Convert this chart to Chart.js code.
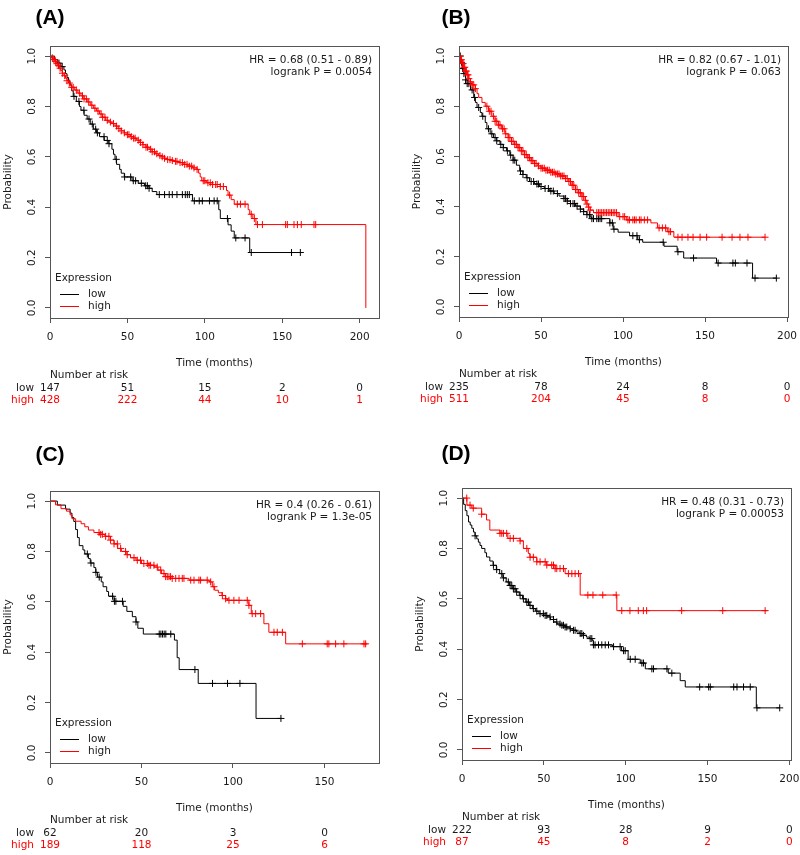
<!DOCTYPE html>
<html>
<head>
<meta charset="utf-8">
<script src="https://cdn.jsdelivr.net/npm/chart.js@4"></script>
<style>
  body { margin: 0; background: #fff; width: 800px; height: 855px; position: relative; overflow: hidden; }
  .panel { position: absolute; width: 400px; height: 428px; }
</style>
</head>
<body>
<div class="panel" style="left:0;top:0"><canvas id="pA" width="400" height="428"></canvas></div>
<div class="panel" style="left:400px;top:0"><canvas id="pB" width="400" height="428"></canvas></div>
<div class="panel" style="left:0;top:428px"><canvas id="pC" width="400" height="428"></canvas></div>
<div class="panel" style="left:400px;top:428px"><canvas id="pD" width="400" height="428"></canvas></div>
<script>
// ---- data: [months, survival] steps, censor times, numbers at risk ----
const yTicks = [0, 0.2, 0.4, 0.6, 0.8, 1.0];

// (A)
const aTicks = [0, 50, 100, 150, 200];
const aRiskLow = [147, 51, 15, 2, 0];
const aRiskHigh = [428, 222, 44, 10, 1];
const aStats = ['HR = 0.68 (0.51 - 0.89)', 'logrank P = 0.0054'];
const aLowSteps = [[0,1],[3,0.986],[5,0.972],[7,0.958],[9,0.945],[10,0.93],[11,0.915],[12,0.9],[13,0.885],[14,0.862],[15,0.84],[17,0.82],[19,0.8],[20,0.785],[22,0.765],[24,0.75],[26,0.73],[28,0.71],[30,0.695],[32,0.68],[35,0.665],[38,0.652],[40,0.63],[41,0.61],[42,0.59],[43,0.57],[45,0.55],[46,0.535],[48,0.52],[53,0.505],[57,0.495],[61,0.485],[64,0.475],[66,0.462],[69,0.45],[92,0.425],[109,0.39],[110,0.355],[115,0.33],[117,0.305],[119,0.278],[129,0.22],[161.7,0.22]];
const aLowCens = [5.8,7.9,15.5,18.7,21.9,25.2,27.3,29.5,30.6,34.9,37,38.1,42.8,48.2,52.1,53.8,55.3,59,61.8,62.9,64,70.6,74,77,79,82,85.5,87.4,88.7,90,93.2,96.4,98.4,103,106,108,114.6,120,126,130,156,161.7];
const aHighSteps = [[0,1],[1,0.993],[2,0.986],[3,0.979],[4,0.97],[5,0.962],[6,0.952],[7,0.942],[8,0.932],[9,0.922],[10,0.912],[11,0.902],[12,0.893],[13,0.884],[14,0.876],[16,0.865],[18,0.853],[20,0.842],[22,0.83],[24,0.818],[26,0.805],[28,0.793],[30,0.782],[32,0.77],[34,0.757],[36,0.745],[38,0.738],[40,0.732],[42,0.722],[44,0.712],[46,0.703],[48,0.695],[50,0.688],[52,0.68],[54,0.674],[56,0.666],[58,0.657],[60,0.648],[62,0.638],[64,0.63],[66,0.62],[68,0.612],[70,0.605],[72,0.6],[74,0.594],[76,0.589],[78,0.585],[80,0.582],[83,0.577],[86,0.57],[89,0.563],[92,0.556],[95,0.55],[96,0.535],[97,0.52],[98,0.505],[101,0.497],[105,0.49],[110,0.482],[114,0.466],[115,0.448],[117,0.43],[119,0.412],[128,0.39],[129,0.372],[131,0.355],[133,0.331],[204,0.331],[204,0]];
const aHighCens = [1.5,2.5,3.5,4.5,5.5,6.5,8,9.5,11,12.5,14,15,17,19,21,22,23.5,25,27,29,31,33,34,35.5,37,39,41,43,44.5,46,48,50,51,52.5,54,55,57,58.5,60,62,63,65,66,67.5,69,71,72.5,74,76,77.5,79,81,82,84,85.5,87,88.5,90,91.5,93,95,99,100,102,103.5,105,107,108,110,112,116,121,123,126,130,132,134,137.2,152.2,153.3,157.6,159.8,162.3,170.5,171.6];

// (B)
const bTicks = [0, 50, 100, 150, 200];
const bRiskLow = [235, 78, 24, 8, 0];
const bRiskHigh = [511, 204, 45, 8, 0];
const bStats = ['HR = 0.82 (0.67 - 1.01)', 'logrank P = 0.063'];
const bLowSteps = [[0,1],[1,0.975],[2,0.95],[3,0.93],[4,0.905],[5,0.89],[7,0.865],[9,0.835],[10,0.815],[11,0.795],[13,0.775],[14,0.76],[16,0.735],[17,0.71],[19,0.69],[21,0.675],[23,0.662],[25,0.648],[27,0.635],[29,0.622],[31,0.605],[33,0.585],[35,0.565],[37,0.542],[39,0.528],[41,0.515],[43,0.5],[46,0.49],[49,0.48],[52,0.472],[55,0.462],[58,0.452],[61,0.442],[64,0.432],[66,0.422],[68,0.412],[71,0.402],[74,0.39],[76,0.38],[78,0.368],[80,0.358],[81,0.352],[92,0.335],[94,0.31],[97,0.298],[104,0.284],[109,0.268],[112,0.258],[125,0.242],[133,0.22],[137,0.195],[157,0.175],[179,0.115],[193.5,0.115]];
const bLowCens = [0.8,1.5,2.2,3,4,5,6,8,9.5,12,14.5,18,20,22,23,25.5,27,29.5,31.5,33,34,37.5,39,41.5,44,45.5,47.5,48.5,50,52.5,54.5,56,57.5,60,64,65,66,68,69.5,70.5,72,74,76,78,79.5,81,82,84,85,86,87,92,93.5,94.5,106,108.5,110,124.5,133.5,143,158,167,168.5,175.6,180.5,193.5];
const bHighSteps = [[0,1],[1,0.985],[2,0.97],[3,0.955],[4,0.94],[5,0.925],[6,0.91],[7,0.897],[8,0.885],[10,0.87],[11,0.85],[12,0.835],[14,0.815],[16,0.8],[18,0.78],[20,0.76],[22,0.74],[24,0.725],[26,0.71],[28,0.69],[30,0.675],[32,0.66],[34,0.648],[36,0.635],[38,0.622],[40,0.607],[42,0.595],[44,0.583],[46,0.572],[48,0.562],[50,0.553],[53,0.545],[56,0.537],[59,0.53],[62,0.522],[65,0.512],[67,0.5],[69,0.485],[71,0.468],[73,0.455],[75,0.44],[77,0.425],[78,0.41],[79,0.398],[80,0.386],[82,0.376],[97,0.36],[102,0.347],[117,0.335],[121,0.315],[127,0.3],[131,0.278],[186.6,0.278]];
const bHighCens = [0.5,1,1.5,2,2.5,3,3.5,4,4.5,5,5.5,6,7,8,9,10,17,18.5,19.5,21,22,23,24,25,26.5,27.5,28.5,30,31,32,33,34,35,36,37,38,39,40,41,42,43,44,45,46,47,48.5,50,51,52,53,54,55,56,57,58,59,60,61,62,63,64,65,66,67,68,69,70,71,72,73,74,75,76,77,78,79,80,84,85,86,87,88,89,90,91,92,93,94,95,96,98,100,101,103,104,106,107,108,110,111,113,115,122,124,126,128,129,133.5,136,139.6,142.7,147,151,160.4,166.5,171.3,176.2,186.6];

// (C)
const cTicks = [0, 50, 100, 150];
const cRiskLow = [62, 20, 3, 0];
const cRiskHigh = [189, 118, 25, 6];
const cStats = ['HR = 0.4 (0.26 - 0.61)', 'logrank P = 1.3e-05'];
const cLowSteps = [[0,1],[4,0.984],[8.5,0.968],[11,0.952],[12,0.935],[13,0.919],[14,0.887],[15,0.855],[16,0.823],[18,0.806],[19,0.79],[21,0.772],[22,0.754],[24,0.736],[25,0.717],[26,0.698],[28,0.679],[29,0.66],[31,0.641],[32,0.622],[35,0.602],[40,0.582],[42,0.562],[45,0.541],[47,0.52],[48,0.495],[51,0.472],[68,0.448],[69.5,0.378],[70.6,0.331],[81,0.276],[112.6,0.137],[126.2,0.137]];
const cLowCens = [20.4,22.4,25.1,26.9,34.2,35.2,36,39.6,47,59.7,60.6,61.5,62.4,63.3,66,79.2,88.8,97,103.8,126.2];
const cHighSteps = [[0,1],[3,0.985],[6,0.97],[9,0.96],[11,0.945],[12,0.93],[14,0.92],[17,0.91],[19,0.898],[21,0.885],[24,0.875],[27,0.868],[30,0.86],[33,0.845],[35,0.83],[37,0.812],[39,0.8],[42,0.787],[44,0.775],[47,0.765],[50,0.752],[54,0.745],[57,0.738],[59,0.726],[61,0.712],[63,0.7],[66,0.693],[76,0.686],[87,0.679],[88.7,0.66],[90,0.646],[92,0.636],[94,0.625],[96,0.612],[97,0.606],[108.7,0.586],[110,0.553],[116.9,0.513],[119.6,0.479],[128.8,0.433],[173.2,0.433]];
const cHighCens = [26.8,27.7,28.6,30.4,32.2,33.1,35,36.8,38.6,41.3,42.2,45.9,47.7,49.5,51.3,53.2,54.1,55,56.8,58.6,60.5,62.3,63.2,64.1,65,65.9,66.8,68.7,70.5,72.3,73.2,76.9,78.7,81.4,82.3,85.9,87.8,89.6,94.2,96,97.8,100.5,103.3,107.8,108.7,110.5,112.4,115.1,122.4,124.2,127,137.9,151.5,152.4,156.1,160.6,171.6,172.5];

// (D)
const dTicks = [0, 50, 100, 150, 200];
const dRiskLow = [222, 93, 28, 9, 0];
const dRiskHigh = [87, 45, 8, 2, 0];
const dStats = ['HR = 0.48 (0.31 - 0.73)', 'logrank P = 0.00053'];
const dLowSteps = [[0,1],[1,0.975],[2,0.95],[3,0.93],[4,0.905],[5,0.893],[6,0.88],[7,0.865],[8,0.85],[9,0.838],[10,0.825],[11,0.812],[12,0.8],[14,0.783],[15,0.766],[17,0.75],[19,0.733],[21,0.716],[23,0.7],[25,0.683],[27,0.667],[29,0.653],[31,0.64],[33,0.627],[35,0.614],[37,0.6],[39,0.587],[41,0.574],[43,0.561],[45,0.551],[47,0.541],[50,0.534],[52,0.528],[54,0.518],[56,0.508],[58,0.5],[60,0.495],[63,0.488],[66,0.481],[68,0.475],[70,0.468],[72,0.462],[74,0.455],[76,0.448],[78,0.442],[79.5,0.435],[80.3,0.417],[92,0.41],[97.5,0.394],[101.5,0.36],[108.9,0.345],[112,0.322],[126,0.305],[133.3,0.275],[136.4,0.25],[179.8,0.167],[194.1,0.167]];
const dLowCens = [8,19.2,21.2,24.3,25.3,28.3,29.4,30.4,31.4,32.4,33.4,35.5,37.5,39.6,40.6,41.6,43.6,45.7,47.7,49.7,50.8,51.8,53.8,55.9,57.9,59.9,61,62,63,64,66.1,68.1,69.1,72.2,73.2,74.2,78.3,79.3,80.3,81.3,83.4,85.4,87.5,89.5,92.6,96.6,98.7,99.7,102.8,105.8,109.9,110.9,116,117,125.2,128.2,145.2,150.7,151.7,166,168,172,176.1,180.2,194.1];
const dHighSteps = [[0,1],[3,0.972],[6,0.96],[12,0.936],[15,0.913],[17,0.873],[23.2,0.86],[28,0.84],[35.5,0.83],[37.5,0.8],[40.5,0.78],[41.5,0.765],[45.7,0.747],[51.8,0.734],[56.9,0.72],[63,0.7],[72.2,0.615],[94.6,0.553],[186.4,0.553]];
const dHighCens = [2.9,4.9,6.9,12,23.2,24.3,25.3,27.3,29.4,31.4,35.5,39.6,41.6,43.6,45.7,47.7,50.8,51.8,54.8,55.9,56.9,57.9,59.9,62,65,67.1,69.1,71.2,76.9,80,86,94.2,97.6,102.6,107.7,110.8,112.8,134.2,159.3,185.2];

// ---- layout per panel ----
const panels = [
  { id: 'pA', tag: '(A)', tagX: 50, tagY: 18, box: { l: 50, t: 46, r: 379, b: 318 }, xMax: 212.5,
    ticks: aTicks, low: aLowSteps, lowCens: aLowCens, high: aHighSteps, highCens: aHighCens, riskLow: aRiskLow, riskHigh: aRiskHigh, stats: aStats },
  { id: 'pB', tag: '(B)', tagX: 56, tagY: 18, box: { l: 59, t: 46, r: 388, b: 317 }, xMax: 200.6,
    ticks: bTicks, low: bLowSteps, lowCens: bLowCens, high: bHighSteps, highCens: bHighCens, riskLow: bRiskLow, riskHigh: bRiskHigh, stats: bStats },
  { id: 'pC', tag: '(C)', tagX: 50, tagY: 27, box: { l: 50, t: 63, r: 379, b: 335 }, xMax: 179.8,
    ticks: cTicks, low: cLowSteps, lowCens: cLowCens, high: cHighSteps, highCens: cHighCens, riskLow: cRiskLow, riskHigh: cRiskHigh, stats: cStats },
  { id: 'pD', tag: '(D)', tagX: 56, tagY: 26, box: { l: 62, t: 60, r: 391, b: 332 }, xMax: 201,
    ticks: dTicks, low: dLowSteps, lowCens: dLowCens, high: dHighSteps, highCens: dHighCens, riskLow: dRiskLow, riskHigh: dRiskHigh, stats: dStats }
];

const FONT = '10.5px "DejaVu Sans", sans-serif';
const INK = '#1a1a1a';
const RED = '#ff0000';

// survival at time t
function survAt(steps, t) {
  let s = steps[0][1];
  for (const [tt, v] of steps) {
    if (tt <= t) s = v; else break;
  }
  return s;
}

function stepSet(steps, color) {
  return {
    data: steps.map(([t, s]) => ({ x: t, y: s })),
    stepped: 'before', borderColor: color, borderWidth: 1, pointRadius: 0, fill: false
  };
}

function censSet(steps, cens, color) {
  return {
    data: cens.map(t => ({ x: t, y: survAt(steps, t) })),
    showLine: false, pointStyle: 'cross', pointRadius: 3.5,
    pointBorderColor: color, pointBorderWidth: 1, pointBackgroundColor: color
  };
}

function decorFor(p) {
  return {
    id: 'decor',
    afterDraw(chart) {
      const ctx = chart.ctx, a = chart.chartArea;
      const xs = chart.scales.x, ys = chart.scales.y;
      ctx.save();
      ctx.strokeStyle = '#555';
      ctx.lineWidth = 1;
      ctx.strokeRect(a.left + 0.5, a.top + 0.5, a.right - a.left, a.bottom - a.top);

      ctx.font = FONT;
      ctx.fillStyle = INK;
      ctx.textBaseline = 'middle';

      // rotated y labels
      yTicks.forEach(v => {
        ctx.save();
        ctx.translate(a.left - 18, ys.getPixelForValue(v));
        ctx.rotate(-Math.PI / 2);
        ctx.textAlign = 'center';
        ctx.fillText(v.toFixed(1), 0, 0);
        ctx.restore();
      });
      ctx.save();
      ctx.translate(a.left - 42, (a.top + a.bottom) / 2);
      ctx.rotate(-Math.PI / 2);
      ctx.textAlign = 'center';
      ctx.fillText('Probability', 0, 0);
      ctx.restore();

      // x labels
      ctx.textAlign = 'center';
      p.ticks.forEach(v => ctx.fillText(String(v), xs.getPixelForValue(v), a.bottom + 19.5));
      ctx.fillText('Time (months)', (a.left + a.right) / 2, a.bottom + 45);

      // stats
      ctx.textAlign = 'right';
      ctx.fillText(p.stats[0], a.right - 7, a.top + 14);
      ctx.fillText(p.stats[1], a.right - 7, a.top + 26);

      // legend
      ctx.textAlign = 'left';
      ctx.fillText('Expression', a.left + 5, a.bottom - 40);
      ctx.fillText('low', a.left + 38, a.bottom - 24);
      ctx.fillText('high', a.left + 38, a.bottom - 12);
      ctx.lineWidth = 1;
      ctx.strokeStyle = '#000';
      ctx.beginPath(); ctx.moveTo(a.left + 10, a.bottom - 23.5); ctx.lineTo(a.left + 29, a.bottom - 23.5); ctx.stroke();
      ctx.strokeStyle = RED;
      ctx.beginPath(); ctx.moveTo(a.left + 10, a.bottom - 11.5); ctx.lineTo(a.left + 29, a.bottom - 11.5); ctx.stroke();

      // number at risk
      ctx.fillText('Number at risk', a.left, a.bottom + 57);
      ctx.textAlign = 'right';
      ctx.fillText('low', a.left - 16, a.bottom + 70);
      ctx.fillStyle = RED;
      ctx.fillText('high', a.left - 16, a.bottom + 82);
      ctx.textAlign = 'center';
      p.ticks.forEach((v, i) => {
        const x = xs.getPixelForValue(v);
        ctx.fillStyle = INK;
        ctx.fillText(String(p.riskLow[i]), x, a.bottom + 70);
        ctx.fillStyle = RED;
        ctx.fillText(String(p.riskHigh[i]), x, a.bottom + 82);
      });

      // panel tag
      ctx.fillStyle = '#000';
      ctx.font = 'bold 21px "Liberation Sans", Arial, sans-serif';
      ctx.fillText(p.tag, p.tagX, p.tagY);
      ctx.restore();
    }
  };
}

function makeChart(p) {
  const yw = 6, xh = 6;
  const W = 400, H = 428;
  new Chart(document.getElementById(p.id), {
    type: 'line',
    data: {
      datasets: [
        censSet(p.high, p.highCens, RED),
        stepSet(p.high, RED),
        censSet(p.low, p.lowCens, '#000'),
        stepSet(p.low, '#000')
      ]
    },
    options: {
      responsive: false,
      animation: false,
      events: [],
      layout: {
        autoPadding: false,
        padding: { left: p.box.l - yw, top: p.box.t, right: W - p.box.r, bottom: H - p.box.b - xh }
      },
      plugins: { legend: { display: false }, tooltip: { enabled: false } },
      scales: {
        x: {
          type: 'linear', min: 0, max: p.xMax,
          afterBuildTicks: s => { s.ticks = p.ticks.map(v => ({ value: v })); },
          afterFit: s => { s.height = xh; },
          ticks: { display: false },
          grid: { drawOnChartArea: false, drawTicks: true, tickLength: 5, color: '#555' },
          border: { display: false }
        },
        y: {
          type: 'linear', min: -0.04, max: 1.04,
          afterBuildTicks: s => { s.ticks = yTicks.map(v => ({ value: v })); },
          afterFit: s => { s.width = yw; },
          ticks: { display: false },
          grid: { drawOnChartArea: false, drawTicks: true, tickLength: 5, color: '#555' },
          border: { display: false }
        }
      }
    },
    plugins: [decorFor(p)]
  });
}

panels.forEach(makeChart);
</script>
</body>
</html>
